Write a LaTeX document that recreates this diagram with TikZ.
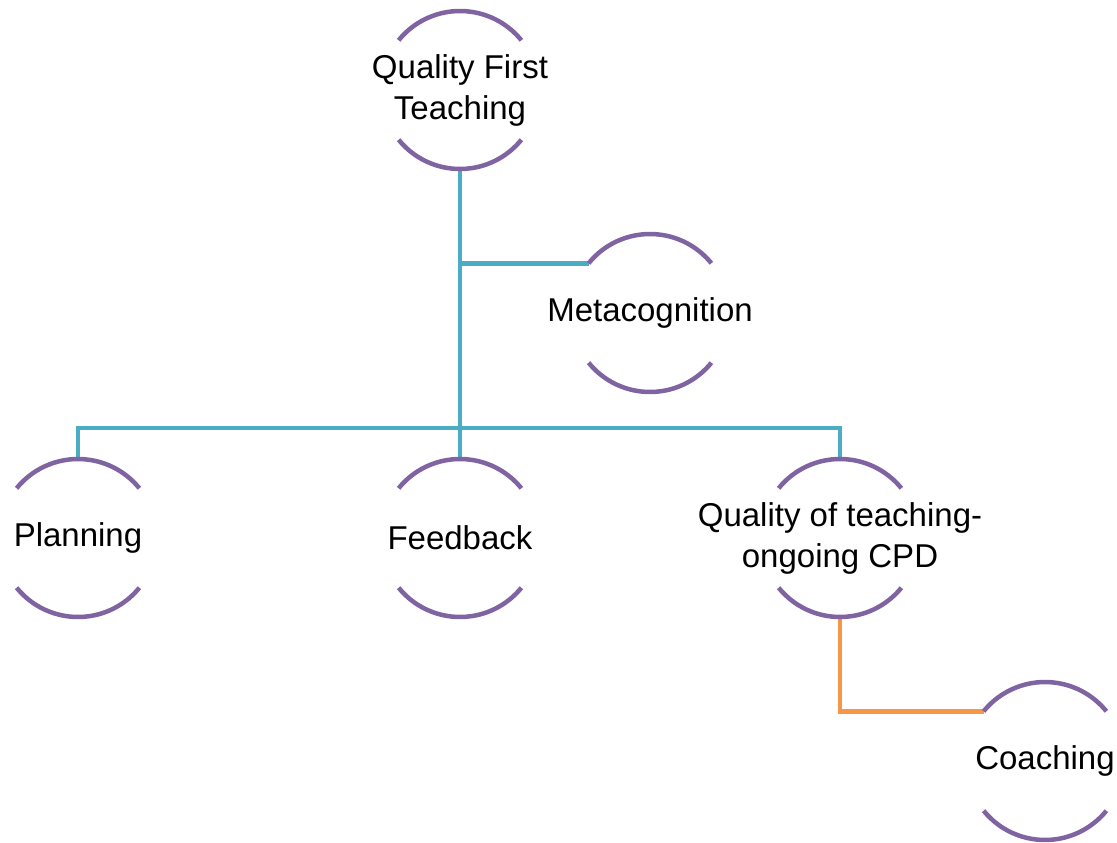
\documentclass[tikz,border=0pt]{standalone}
\usepackage{fontspec}
\setmainfont{Liberation Sans}
\definecolor{ringpurple}{HTML}{8064A2}
\definecolor{linkteal}{HTML}{4BACC6}
\definecolor{linkorange}{HTML}{F79646}
\begin{document}
\begin{tikzpicture}[x=1pt,y=1pt,
  ring/.style={circle,minimum size=158pt,inner sep=0pt,outer sep=0pt},
  txt/.style={font=\fontsize{33}{41}\selectfont,align=center,inner sep=0pt},
  arcline/.style={draw=ringpurple,line width=4.5pt},
  tealline/.style={draw=linkteal,line width=4.5pt},
  orangeline/.style={draw=linkorange,line width=4.5pt}]
\useasboundingbox (0,0) rectangle (1117,-843);
\node[ring,label={[txt]center:Quality First\\Teaching}] (qft) at (460,-90) {};
\node[ring,label={[txt]center:Metacognition}] (meta) at (650,-313) {};
\node[ring,label={[txt]center:Planning}] (plan) at (78,-538) {};
\node[ring,label={[txt]center:Feedback}] (feed) at (460,-538) {};
\node[ring,label={[txt]center:Quality of teaching-\\ongoing CPD}] (qot) at (840,-538) {};
\node[ring,label={[txt]center:Coaching}] (coach) at (1045,-761) {};
\coordinate (bus) at (460,-428);
% connectors
\draw[tealline] (qft.south) -- (feed.north);
\draw[tealline] (qft.south |- meta.141) -- (meta.141);
\draw[tealline] (plan.north) -- (plan.north |- bus) -- (qot.north |- bus) -- (qot.north);
\draw[orangeline] (qot.south) |- (coach.141);
% open rings
\foreach \n in {qft,meta,plan,feed,qot,coach} {
  \draw[arcline] (\n.141) arc[start angle=141,end angle=39,radius=79pt];
  \draw[arcline] (\n.219) arc[start angle=219,end angle=321,radius=79pt];
}
\end{tikzpicture}
\end{document}
